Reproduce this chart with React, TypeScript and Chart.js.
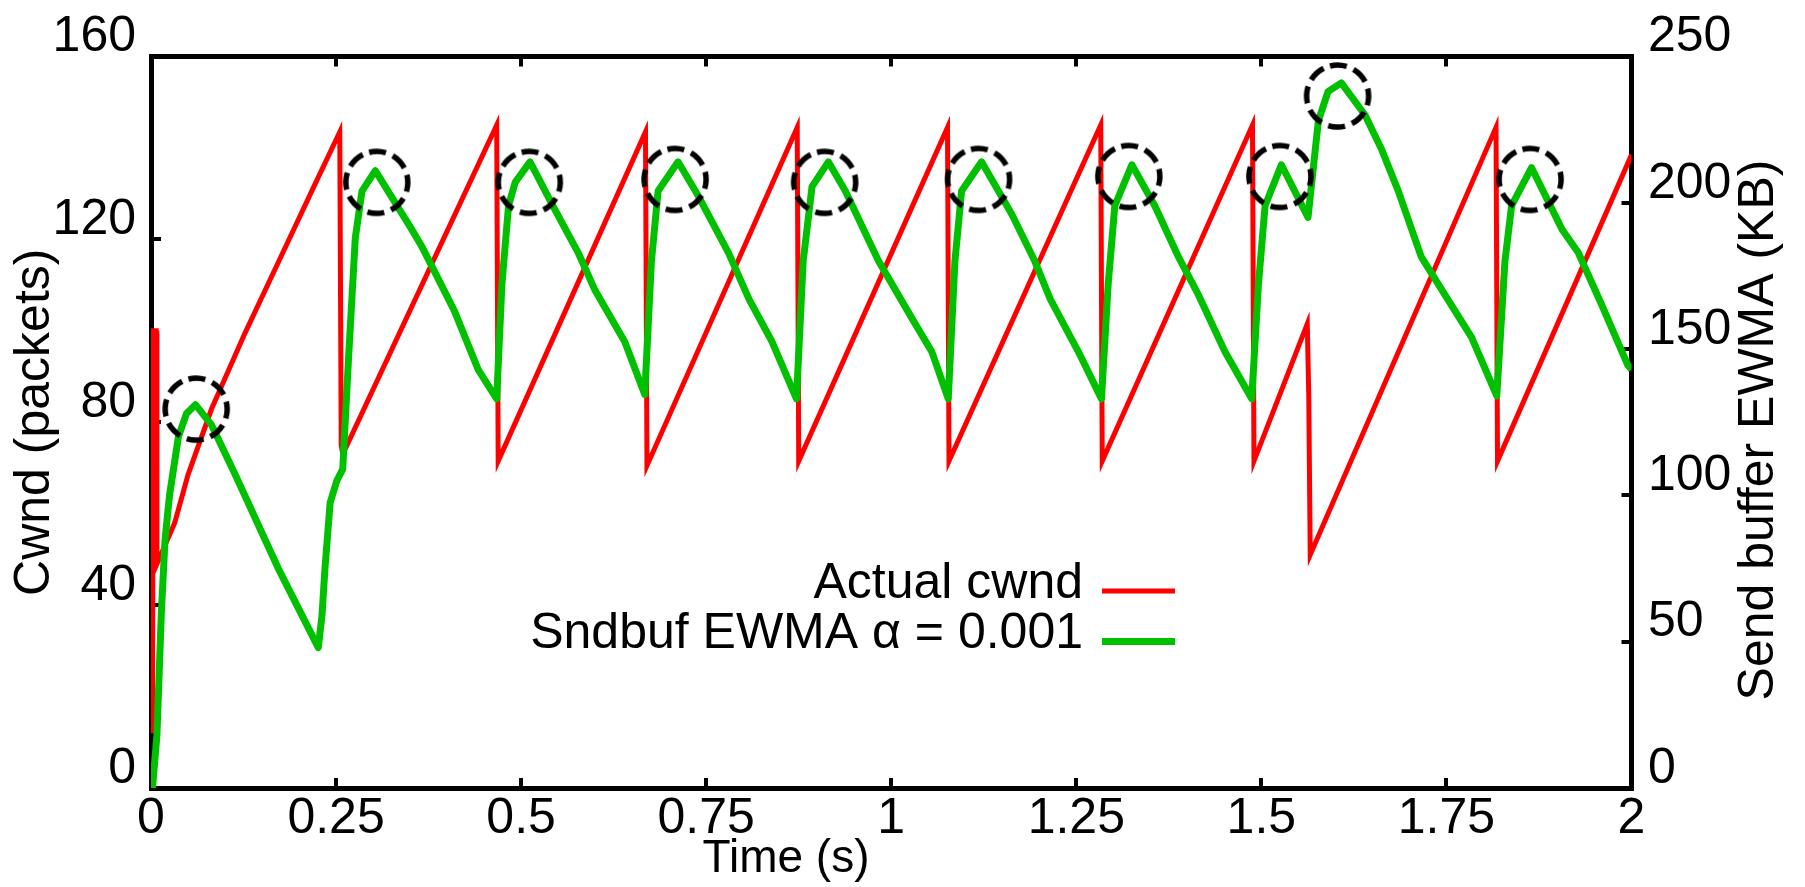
import React, { useEffect, useRef } from 'react';
import { Chart, registerables } from 'chart.js';

Chart.register(...registerables);

const FONT = '"Liberation Sans", Arial, sans-serif';

// ---- tick definitions ----
const xTicks = [0, 0.25, 0.5, 0.75, 1, 1.25, 1.5, 1.75, 2];
const xTickLabels = ['0', '0.25', '0.5', '0.75', '1', '1.25', '1.5', '1.75', '2'];
const yLeftTicks = [0, 40, 80, 120, 160];
const yLeftTickLabels = ['0', '40', '80', '120', '160'];
const yRightTicks = [0, 50, 100, 150, 200, 250];
const yRightTickLabels = ['0', '50', '100', '150', '200', '250'];

// ---- texts ----
const xTitle = 'Time (s)';
const yLeftTitle = 'Cwnd (packets)';
const yRightTitle = 'Send buffer EWMA (KB)';
const cwndLabel = 'Actual cwnd';
const ewmaLabel = 'Sndbuf EWMA \u03b1 = 0.001';

// ---- Actual cwnd (packets, left axis) ----
const cwndTimes = [
  0.002, 0.003, 0.007, 0.008, 0.032, 0.050, 0.082, 0.127, 0.172, 0.217, 0.255,
  0.257, 0.259, 0.467, 0.469, 0.668, 0.670, 0.873, 0.875, 1.076, 1.078,
  1.283, 1.285, 1.488, 1.490, 1.562, 1.564, 1.566, 1.817, 1.819, 2.000,
];
const cwndValues = [
  12, 100, 100, 49, 58, 68.5, 83, 99.5, 115, 130.5, 143.5,
  75, 73, 145, 71.5, 143.5, 70.5, 144.5, 71.5, 144.5, 71.5,
  145, 71.5, 145, 71.5, 101.5, 86, 51, 144.5, 71.5, 138.5,
];

// ---- Sndbuf EWMA (KB, right axis) ----
const ewmaTimes = [
  0.002, 0.008, 0.014, 0.019, 0.025, 0.037, 0.048, 0.060, 0.082, 0.114, 0.172, 0.226,
  0.231, 0.235, 0.242, 0.251, 0.259, 0.267, 0.276, 0.285, 0.303,
  0.352, 0.366, 0.400, 0.410, 0.442, 0.467,
  0.474, 0.483, 0.492, 0.512, 0.546, 0.577, 0.600, 0.640, 0.667,
  0.676, 0.685, 0.712, 0.739, 0.780, 0.808, 0.839, 0.872,
  0.881, 0.893, 0.915, 0.938, 0.983, 1.028, 1.055, 1.077,
  1.086, 1.095, 1.122, 1.163, 1.194, 1.215, 1.253, 1.284,
  1.293, 1.302, 1.325, 1.356, 1.388, 1.415, 1.451, 1.487,
  1.496, 1.505, 1.527, 1.563, 1.577, 1.590, 1.608,
  1.640, 1.662, 1.685, 1.716, 1.748, 1.784, 1.818,
  1.829, 1.838, 1.865, 1.906, 1.928, 1.960, 1.995, 2.000,
];
const ewmaValues = [
  0, 18, 60, 85, 100, 120, 128, 131, 124, 107, 75, 48,
  59, 75, 97.5, 105, 109, 147.5, 188, 204, 211,
  191, 185, 168, 163, 143, 133,
  172, 199, 207, 214, 197.5, 183, 170, 152.5, 134.5,
  180, 204, 214, 202.5, 183, 167, 152.5, 133,
  180, 205.5, 214, 204, 180, 160.5, 149, 133,
  180, 204, 214, 196, 180, 167, 149, 133,
  172, 199, 213, 199, 181.5, 168.5, 149, 133,
  172, 199, 213, 195, 228, 238, 241,
  230, 218.5, 204, 181.5, 168.5, 154, 134,
  180, 199, 212, 191, 183, 165, 144.5, 143,
];

// ---- dashed circles marking EWMA peaks (right axis) ----
const peakTimes = [0.061, 0.305, 0.511, 0.708, 0.910, 1.118, 1.321, 1.525, 1.603, 1.863];
const peakValues = [129.5, 207, 207, 208, 207, 208, 209, 209, 236.5, 208];

const zip = (xs: number[], ys: number[]) => xs.map((x, i) => ({ x, y: ys[i] }));

function makeCircleImage(): HTMLCanvasElement {
  const c = document.createElement('canvas');
  c.width = 80;
  c.height = 80;
  const g = c.getContext('2d')!;
  g.strokeStyle = '#000';
  g.lineWidth = 5.5;
  g.setLineDash([17, 7.35]);
  g.beginPath();
  g.arc(40, 40, 31, -Math.PI / 2 - 0.25, 1.5 * Math.PI - 0.25);
  g.stroke();
  return c;
}

const overlayPlugin = {
  id: 'overlayTexts',
  afterDraw(chart: any) {
    const ctx = chart.ctx as CanvasRenderingContext2D;
    const ds = chart.data.datasets;
    ctx.save();
    ctx.fillStyle = '#000';
    ctx.font = `50px ${FONT}`;
    // legend (inside plot, text right-aligned, sample to the right)
    const rows = [
      { d: ds[0], base: 598, line: 591 },
      { d: ds[1], base: 647.5, line: 641.5 },
    ];
    for (const r of rows) {
      ctx.textAlign = 'right';
      ctx.textBaseline = 'alphabetic';
      ctx.fillStyle = '#000';
      ctx.fillText(r.d.label, 1083, r.base);
      ctx.strokeStyle = r.d.borderColor;
      ctx.lineWidth = r.d.borderWidth;
      ctx.beginPath();
      ctx.moveTo(1102, r.line);
      ctx.lineTo(1175, r.line);
      ctx.stroke();
    }
    // right axis title (reads bottom to top)
    ctx.save();
    ctx.translate(1759, 430);
    ctx.rotate(-Math.PI / 2);
    ctx.textAlign = 'center';
    ctx.textBaseline = 'middle';
    ctx.fillStyle = '#000';
    ctx.fillText(yRightTitle, 0, 0);
    ctx.restore();
    // x axis title
    ctx.font = `46px ${FONT}`;
    ctx.textAlign = 'center';
    ctx.textBaseline = 'alphabetic';
    ctx.fillText(xTitle, 786, 872);
    ctx.restore();
  },
};

export default function App() {
  const ref = useRef<HTMLCanvasElement | null>(null);

  useEffect(() => {
    document.body.style.margin = '0';
    const canvas = ref.current!;
    const axisFont = { family: FONT, size: 50 };
    const grid = {
      display: true,
      drawOnChartArea: false,
      drawTicks: true,
      tickLength: -10,
      tickWidth: 4,
      tickColor: '#000',
      color: '#000',
      lineWidth: 4,
    };
    const border = { display: true, color: '#000', width: 5 };
    const setTicks = (vals: number[]) => (s: any) => {
      s.ticks = vals.map((v) => ({ value: v }));
    };

    const chart = new Chart(canvas, {
      type: 'line',
      data: {
        datasets: [
          {
            label: cwndLabel,
            data: zip(cwndTimes, cwndValues),
            borderColor: '#ff0000',
            borderWidth: 5,
            pointRadius: 0,
            tension: 0,
            yAxisID: 'y',
            xAxisID: 'x',
            order: 2,
          },
          {
            label: ewmaLabel,
            data: zip(ewmaTimes, ewmaValues),
            borderColor: '#00c000',
            borderWidth: 7,
            pointRadius: 0,
            tension: 0,
            borderJoinStyle: 'round',
            yAxisID: 'y2',
            xAxisID: 'x',
            order: 1,
          },
          {
            label: 'peaks',
            data: zip(peakTimes, peakValues),
            showLine: false,
            pointStyle: makeCircleImage() as any,
            pointRadius: 31,
            borderColor: '#000',
            backgroundColor: 'rgba(0,0,0,0)',
            yAxisID: 'y2',
            xAxisID: 'x',
            order: 0,
          },
        ],
      },
      options: {
        responsive: false,
        maintainAspectRatio: false,
        devicePixelRatio: 1,
        animation: false,
        layout: { padding: 0 },
        plugins: {
          legend: { display: false },
          tooltip: { enabled: false },
          title: { display: false },
        },
        scales: {
          x: {
            type: 'linear',
            position: 'bottom',
            min: 0,
            max: 2,
            grid,
            border,
            afterBuildTicks: setTicks(xTicks),
            afterFit: (s: any) => {
              s.height = 99;
            },
            ticks: {
              font: axisFont,
              color: '#000',
              padding: 11,
              maxRotation: 0,
              minRotation: 0,
              autoSkip: false,
              callback: (_v: any, i: number) => xTickLabels[i],
            },
          },
          x2: {
            type: 'linear',
            position: 'top',
            min: 0,
            max: 2,
            grid,
            border,
            afterBuildTicks: setTicks(xTicks),
            afterFit: (s: any) => {
              s.height = 47.5;
            },
            ticks: { display: false },
          },
          y: {
            type: 'linear',
            position: 'left',
            min: 0,
            max: 160,
            grid,
            border,
            afterBuildTicks: setTicks(yLeftTicks),
            afterFit: (s: any) => {
              s.width = 151;
            },
            ticks: {
              font: axisFont,
              color: '#000',
              padding: 25,
              labelOffset: -19,
              autoSkip: false,
              callback: (_v: any, i: number) => yLeftTickLabels[i],
            },
            title: {
              display: true,
              text: yLeftTitle,
              font: axisFont,
              color: '#000',
              padding: { top: 5, bottom: 0 },
            },
          },
          y2: {
            type: 'linear',
            position: 'right',
            min: 0,
            max: 250,
            grid,
            border,
            afterBuildTicks: setTicks(yRightTicks),
            afterFit: (s: any) => {
              s.width = 173.5;
            },
            ticks: {
              font: axisFont,
              color: '#000',
              padding: 26.5,
              labelOffset: -19,
              autoSkip: false,
              callback: (_v: any, i: number) => yRightTickLabels[i],
            },
          },
        },
      } as any,
      plugins: [overlayPlugin],
    });

    return () => chart.destroy();
  }, []);

  return (
    <canvas
      ref={ref}
      width={1805}
      height={887}
      style={{ display: 'block', width: 1805, height: 887 }}
    />
  );
}
